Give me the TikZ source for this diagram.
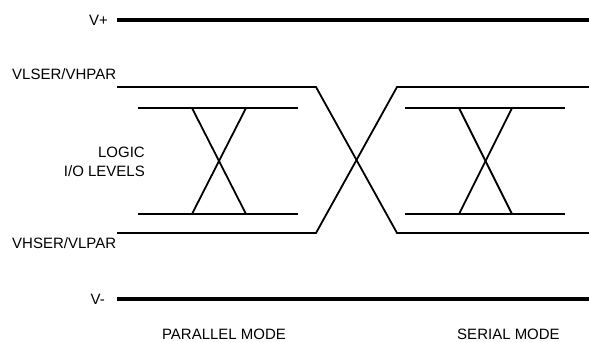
\documentclass[tikz,border=0pt]{standalone}
\usepackage{fontspec}
\setmainfont{Liberation Sans}
\begin{document}
\begin{tikzpicture}[x=1pt,y=-1pt,
  sig/.style={line width=1.8pt, line join=miter},
  rail/.style={line width=4.5pt},
  lbl/.style={inner sep=0pt, font=\fontsize{15}{19}\selectfont}]
\useasboundingbox (0,0) rectangle (589,341);
% supply rails
\coordinate (vpL) at (117,20);  \coordinate (vpR) at (589,20);
\coordinate (vmL) at (117,299); \coordinate (vmR) at (589,299);
\draw[rail] (vpL) -- (vpR);
\draw[rail] (vmL) -- (vmR);
% outer levels crossing
\coordinate (hiL) at (117,87);  \coordinate (hiK) at (316,87);
\coordinate (loL) at (117,233); \coordinate (loK) at (316,233);
\coordinate (hiM) at (397,87);  \coordinate (hiR) at (589,87);
\coordinate (loM) at (397,233); \coordinate (loR) at (589,233);
\draw[sig] (hiL) -- (hiK) -- (loM) -- (loR);
\draw[sig] (loL) -- (loK) -- (hiM) -- (hiR);
% parallel-mode logic levels
\draw[sig] (138,108) -- (298,108);
\draw[sig] (138,214) -- (298,214);
\draw[sig] (192,108) -- (246,214);
\draw[sig] (246,108) -- (192,214);
% serial-mode logic levels
\draw[sig] (405,108) -- (565,108);
\draw[sig] (405,214) -- (565,214);
\draw[sig] (459,108) -- (512,214);
\draw[sig] (512,108) -- (459,214);
% labels
\node[lbl, anchor=base east] (vp) at (108,25) {V+};
\node[lbl, anchor=base east] (vm) at (105,304) {V-};
\node[lbl, anchor=base west] (vhp) at (12,79) {VLSER/VHPAR};
\node[lbl, anchor=base west] (vlp) at (12,248) {VHSER/VLPAR};
\node[lbl, anchor=base east] (lg1) at (145,157) {LOGIC};
\node[lbl, anchor=base east] (lg2) at (145,176.5) {I/O LEVELS};
\node[lbl, anchor=base] (pm) at (224,339) {PARALLEL MODE};
\node[lbl, anchor=base] (sm) at (508.5,339) {SERIAL MODE};
\end{tikzpicture}
\end{document}
